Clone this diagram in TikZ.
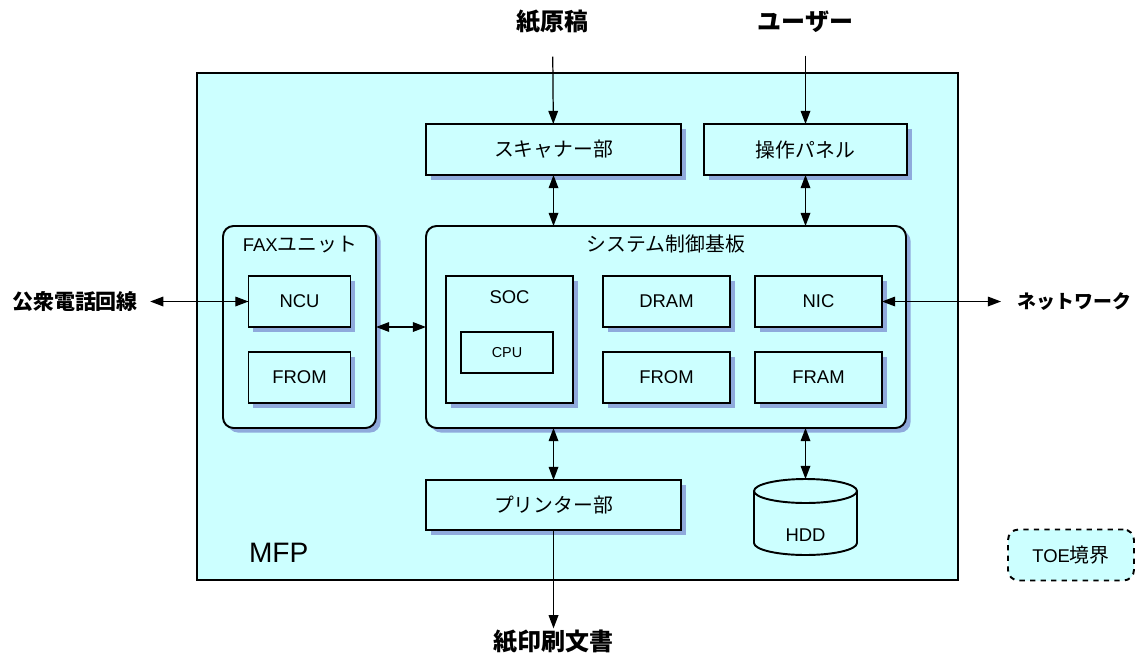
\documentclass[tikz,border=0pt]{standalone}
\usepackage{fontspec}
\setmainfont{Liberation Sans}
\newfontfamily\cjk[Scale=1.075]{Noto Sans CJK JP}
\usetikzlibrary{arrows.meta,shadows}
\definecolor{boxfill}{RGB}{204,255,255}
\definecolor{shade}{RGB}{143,170,220}
\begin{document}
\begin{tikzpicture}[x=0.02cm,y=-0.02cm,
  every node/.style={inner sep=0pt, outer sep=0pt},
  sz/.style 2 args={minimum width=#1*0.02cm, minimum height=#2*0.02cm},
  plainbox/.style={draw, line width=1.1pt, fill=boxfill, font=\fontsize{10.5}{12}\selectfont},
  unit/.style={plainbox, general shadow={fill=shade, shadow xshift=2.6pt, shadow yshift=-2.6pt}},
  group/.style={unit, rounded corners=6pt},
  title/.style={font=\fontsize{10.5}{12}\selectfont},
  extv/.style={font=\fontsize{12.7}{15}\selectfont\bfseries},
  exth/.style={font=\fontsize{11.1}{13}\selectfont\bfseries},
  conn/.style={line width=0.7pt, {Triangle[length=7.5pt,width=5.5pt]}-{Triangle[length=7.5pt,width=5.5pt]}},
  oneway/.style={line width=0.7pt, -{Triangle[length=7.5pt,width=5.5pt]}}
]
\useasboundingbox (0,0) rectangle (1135,666);

% MFP boundary
\node[plainbox, sz={761}{507}] (mfp) at (577.5,326.5) {};
\node[font=\fontsize{16}{18}\selectfont, anchor=west] (mfpt) at (249,553) {MFP};

% top units
\node[unit, sz={255}{51}] (scan) at (553.5,149.5) {\cjk スキャナー部};
\node[unit, sz={203}{51}] (panel) at (805.5,149.5) {\cjk 操作パネル};

% FAX unit
\node[group, sz={153}{202}] (fax) at (299.5,327) {};
\node[title] (faxt) at (300,245) {FAX\cjk ユニット};
\node[unit, sz={102}{51}] (ncu) at (299.5,301.5) {NCU};
\node[unit, sz={102}{51}] (from1) at (299.5,377.5) {FROM};

% system board
\node[group, sz={480}{202}] (sys) at (666,327) {};
\node[title] (syst) at (666,244) {\cjk システム制御基板};
\node[unit, sz={127}{127}] (soc) at (509.5,339.5) {};
\node[title] (soct) at (509.5,297) {SOC};
\node[plainbox, line width=0.9pt, sz={92}{41}, font=\fontsize{8.2}{10}\selectfont] (cpu) at (507,352.5) {CPU};
\node[unit, sz={127}{51}] (dram) at (666.5,301.5) {DRAM};
\node[unit, sz={127}{51}] (nic) at (818.5,301.5) {NIC};
\node[unit, sz={127}{51}] (from2) at (666.5,377.5) {FROM};
\node[unit, sz={127}{51}] (fram) at (818.5,377.5) {FRAM};

% printer
\node[unit, sz={255}{50}] (prn) at (553.5,505) {\cjk プリンター部};

% HDD
\node[sz={103}{76}] (hdd) at (805.5,517) {};
\fill[boxfill] (754,491) -- (754,543) arc[start angle=180,end angle=0,x radius=51.5,y radius=12] -- (857,491) -- cycle;
\draw[line width=1.1pt] (754,491) -- (754,543) arc[start angle=180,end angle=0,x radius=51.5,y radius=12] -- (857,491);
\draw[line width=1.1pt, fill=boxfill] (805.5,491) ellipse[x radius=51.5, y radius=12];
\node[title] (hddt) at (805.5,535) {HDD};

% legend
\node[plainbox, dashed, rounded corners=6pt, sz={126}{51}] (toe) at (1071,555) {TOE\cjk 境界};

% external labels
\node[extv] (genko) at (552.5,22) {\cjk 紙原稿};
\node[extv] (user) at (805.5,22) {\cjk ユーザー};
\node[extv] (outdoc) at (553.5,642) {\cjk 紙印刷文書};
\node[exth] (tel) at (75,301.5) {\cjk 公衆電話回線};
\node[exth, font=\fontsize{10}{12}\selectfont\bfseries, anchor=east] (net) at (1131,301.5) {\cjk ネットワーク};
\coordinate (netend) at (1001,301.5);

% connectors
\draw[oneway, shorten <=13pt] (genko) -- (scan);
\draw[oneway, shorten <=13pt] (user) -- (panel);
\draw[conn] (scan.south) -- (scan.south |- sys.north);
\draw[conn] (panel.south) -- (panel.south |- sys.north);
\draw[conn] (prn.north |- sys.south) -- (prn.north);
\draw[conn] (hdd.north |- sys.south) -- (hdd.north);
\draw[oneway, shorten >=1pt] (prn) -- (outdoc);
\draw[conn] (fax) -- (sys);
\draw[conn, shorten <=7pt] (tel) -- (ncu);
\draw[conn] (nic) -- (netend);
\end{tikzpicture}
\end{document}
